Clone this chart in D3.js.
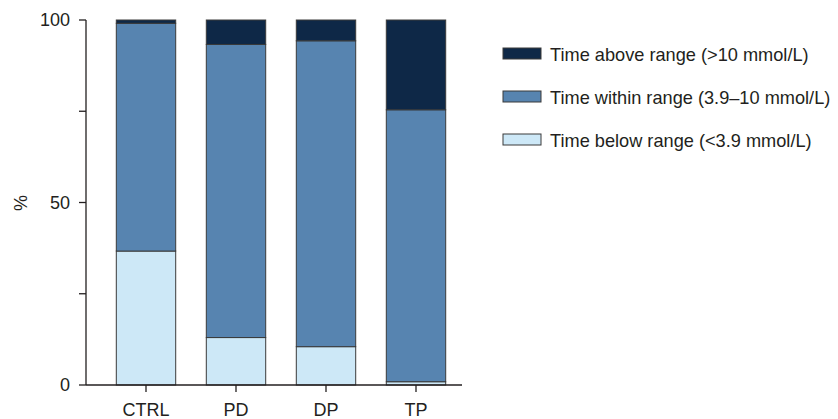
<!DOCTYPE html>
<html>
<head>
<meta charset="utf-8">
<script src="https://cdn.jsdelivr.net/npm/d3@7"></script>
<style>
  body { margin: 0; background: #fff; }
  svg { font-family: "Liberation Sans", Arial, sans-serif; }
</style>
</head>
<body>
<svg id="chart" width="838" height="419"></svg>
<script>
// groups on the x axis
var groups = ["CTRL", "PD", "DP", "TP"];
// series, % of time (bottom to top)
var below = [36.7, 13.0, 10.5, 0.9];
var within = [62.4, 80.3, 83.8, 74.5];
var above = [0.9, 6.7, 5.7, 24.6];
var seriesNames = ["Time below range (<3.9 mmol/L)", "Time within range (3.9\u201310 mmol/L)", "Time above range (>10 mmol/L)"];
var seriesColors = ["#cde8f7", "#5784b0", "#0e2847"];
var yTicks = [0, 25, 50, 75, 100];
var yLabels = [0, 50, 100];

var svg = d3.select("#chart");
var axisColor = "#231f20";

var x = d3.scaleBand()
  .domain(groups)
  .range([101, 461])
  .paddingInner(0.34)
  .paddingOuter(0.17);

var y = d3.scaleLinear()
  .domain([0, 100])
  .range([385, 20]);

// build the rows for stacking
var rows = groups.map(function (g, i) {
  return { group: g, below: below[i], within: within[i], above: above[i] };
});
var stack = d3.stack().keys(["below", "within", "above"]);
var layers = stack(rows);

var layer = svg.selectAll("g.layer")
  .data(layers)
  .join("g")
  .attr("class", "layer")
  .attr("fill", function (d, i) { return seriesColors[i]; });

layer.selectAll("rect")
  .data(function (d) { return d; })
  .join("rect")
  .attr("x", function (d) { return x(d.data.group); })
  .attr("width", x.bandwidth())
  .attr("y", function (d) { return y(d[1]); })
  .attr("height", function (d) { return y(d[0]) - y(d[1]); })
  .attr("stroke", "#3a3a3a")
  .attr("stroke-width", 1);

// y axis
var yAxis = svg.append("g").attr("transform", "translate(86,0)");
yAxis.append("line")
  .attr("x1", 0).attr("x2", 0)
  .attr("y1", y(100)).attr("y2", y(0))
  .attr("stroke", axisColor).attr("stroke-width", 1.3);
yAxis.selectAll("line.tick")
  .data(yTicks)
  .join("line")
  .attr("class", "tick")
  .attr("x1", -7).attr("x2", 0)
  .attr("y1", function (d) { return y(d); })
  .attr("y2", function (d) { return y(d); })
  .attr("stroke", axisColor).attr("stroke-width", 1.3);
yAxis.selectAll("text")
  .data(yLabels)
  .join("text")
  .attr("x", -16)
  .attr("y", function (d) { return y(d); })
  .attr("dy", "0.36em")
  .attr("text-anchor", "end")
  .attr("font-size", 18)
  .attr("fill", axisColor)
  .text(function (d) { return d; });

svg.append("text")
  .attr("transform", "translate(27,203) rotate(-90)")
  .attr("text-anchor", "middle")
  .attr("font-size", 18)
  .attr("fill", axisColor)
  .text("%");

// x axis
var xAxis = svg.append("g").attr("transform", "translate(0,385)");
xAxis.append("line")
  .attr("x1", 86).attr("x2", 462)
  .attr("y1", 0).attr("y2", 0)
  .attr("stroke", axisColor).attr("stroke-width", 1.3);
xAxis.selectAll("line.tick")
  .data(groups)
  .join("line")
  .attr("class", "tick")
  .attr("x1", function (d) { return x(d) + x.bandwidth() / 2; })
  .attr("x2", function (d) { return x(d) + x.bandwidth() / 2; })
  .attr("y1", 0).attr("y2", 7)
  .attr("stroke", axisColor).attr("stroke-width", 1.3);
xAxis.selectAll("text")
  .data(groups)
  .join("text")
  .attr("x", function (d) { return x(d) + x.bandwidth() / 2; })
  .attr("y", 31)
  .attr("text-anchor", "middle")
  .attr("font-size", 18)
  .attr("fill", axisColor)
  .text(function (d) { return d; });

// legend, top to bottom: above, within, below
var legendOrder = [2, 1, 0];
var legend = svg.selectAll("g.legend")
  .data(legendOrder)
  .join("g")
  .attr("class", "legend")
  .attr("transform", function (d, i) { return "translate(503," + (48 + i * 43) + ")"; });
legend.append("rect")
  .attr("width", 38).attr("height", 11)
  .attr("fill", function (d) { return seriesColors[d]; })
  .attr("stroke", "#3a3a3a").attr("stroke-width", 1);
legend.append("text")
  .attr("x", 47)
  .attr("y", 6)
  .attr("dy", "0.36em")
  .attr("font-size", 18.2)
  .attr("fill", axisColor)
  .text(function (d) { return seriesNames[d]; });
</script>
</body>
</html>
